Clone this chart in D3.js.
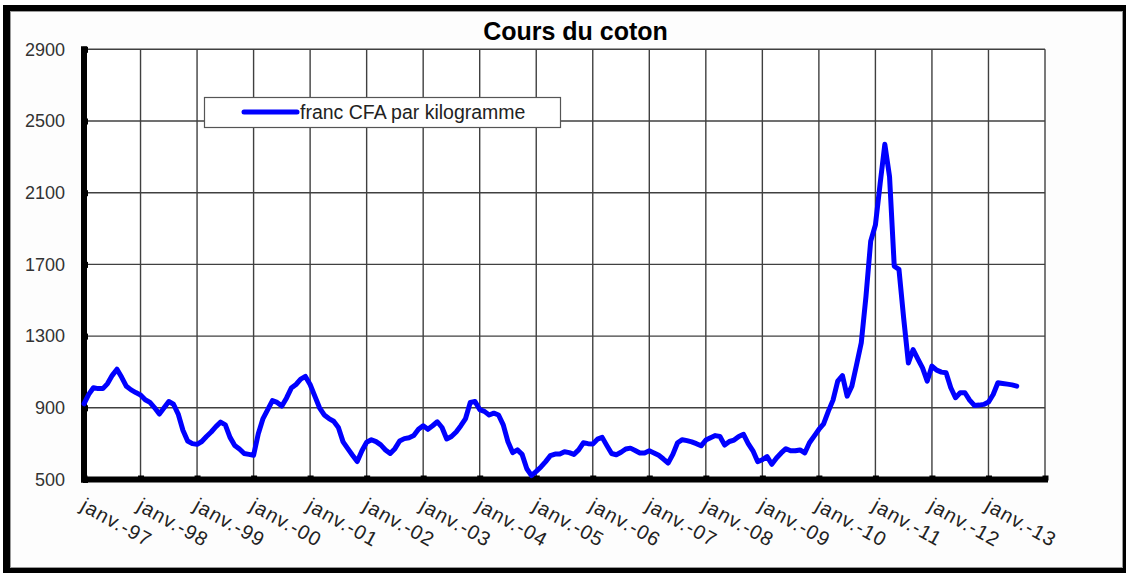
<!DOCTYPE html>
<html lang="fr">
<head>
<meta charset="utf-8" />
<title>Cours du coton</title>
<style type="text/css">
	body { margin: 0; background: #fff; }
	svg text { font-family: "Liberation Sans", Arial, sans-serif; }
</style>
</head>
<body>
<div id="graph"></div>
<script src="https://cdn.jsdelivr.net/npm/d3@7"></script>
<script type="text/javascript">
	// monthly price, franc CFA per kg, starting janv. 1997
	var seriesName = "franc CFA par kilogramme";
	var prices = [
		922, 975, 1012, 1007, 1007, 1035, 1081, 1115, 1070, 1020, 1000, 985,
		972, 945, 930, 900, 865, 900, 935, 920, 865, 775, 715, 700,
		696, 712, 740, 765, 795, 820, 805, 735, 690, 670, 645, 640,
		635, 755, 840, 890, 940, 930, 910, 955, 1010, 1030, 1060, 1075,
		1030, 965, 900, 860, 840, 825, 790, 710, 672, 635, 600, 660,
		708, 722, 711, 693, 665, 645, 672, 715, 728, 733, 745, 780,
		800, 780, 800, 822, 790, 726, 740, 765, 800, 840, 930, 935,
		890, 880, 860, 870, 860, 805, 710, 650, 665, 640, 560, 522,
		545, 570, 600, 633, 642, 642, 655, 650, 640, 665, 705, 700,
		698, 725, 735, 689, 645, 638, 652, 670, 675, 662, 648, 648,
		660, 648, 635, 614, 592, 640, 705, 722, 717, 710, 700, 688,
		720, 733, 745, 740, 692, 712, 720, 740, 752, 700, 660, 600,
		610, 628, 585, 620, 648, 672, 660, 660, 665, 648, 705, 742,
		779, 810, 880, 943, 1049, 1080, 965, 1021, 1140, 1263, 1523, 1830,
		1920, 2150, 2370, 2190, 1690, 1672, 1400, 1150, 1225, 1173, 1123, 1049,
		1133, 1110, 1099, 1095, 1012, 956, 984, 984, 943, 913, 915, 919,
		932, 974, 1040, 1036, 1032, 1028, 1021
	];
	var yTicks = [500, 900, 1300, 1700, 2100, 2500, 2900];
	var xTickLabels = ["janv.-97", "janv.-98", "janv.-99", "janv.-00", "janv.-01", "janv.-02",
		"janv.-03", "janv.-04", "janv.-05", "janv.-06", "janv.-07", "janv.-08", "janv.-09",
		"janv.-10", "janv.-11", "janv.-12", "janv.-13"];

	var W = 1126, H = 573;
	var plotL = 84, plotR = 1045, plotT = 49.3, plotB = 479.5;
	var nMonths = xTickLabels.length * 12; // axis runs to janv.-14

	var svg = d3.select("#graph").append("svg")
		.attr("width", W)
		.attr("height", H);

	// outer frame
	svg.append("rect").attr("x", 3).attr("y", 5).attr("width", W).attr("height", H)
		.attr("fill", "#000");
	svg.append("rect").attr("x", 10.5).attr("y", 11.5).attr("width", 1112).attr("height", 556)
		.attr("fill", "#fdfdfd").attr("stroke", "#9a9a9a").attr("stroke-width", 1);

	var x = d3.scaleLinear().domain([0, nMonths]).range([plotL, plotR]);
	var y = d3.scaleLinear().domain([500, 2900]).range([plotB, plotT]);

	// plot area
	svg.append("rect")
		.attr("x", plotL).attr("y", plotT)
		.attr("width", plotR - plotL).attr("height", plotB - plotT)
		.attr("fill", "#fff");

	// gridlines
	var grid = svg.append("g").attr("class", "grid");
	grid.selectAll(".hgrid")
		.data(yTicks)
		.enter().append("line")
		.attr("x1", plotL).attr("x2", plotR)
		.attr("y1", d => y(d)).attr("y2", d => y(d))
		.attr("stroke", "#404040").attr("stroke-width", 1.4);
	grid.selectAll(".vgrid")
		.data(d3.range(0, nMonths + 1, 12))
		.enter().append("line")
		.attr("x1", d => x(d)).attr("x2", d => x(d))
		.attr("y1", plotT).attr("y2", plotB)
		.attr("stroke", "#404040").attr("stroke-width", 1.4);

	// y axis
	var yAxis = svg.append("g")
		.attr("transform", "translate(" + plotL + ",0)")
		.call(d3.axisLeft(y).tickValues(yTicks).tickFormat(d3.format("d"))
			.tickSize(0).tickSizeOuter(0).tickPadding(19));
	yAxis.select(".domain").attr("stroke", "#000").attr("stroke-width", 6)
		.attr("d", "M0," + (plotT - 3) + "V" + (plotB + 3));
	yAxis.selectAll("text")
		.style("font-family", "'Liberation Sans', Arial, sans-serif")
		.style("font-size", "18px")
		.attr("fill", "#333");
	yAxis.selectAll(".tick").append("rect")
		.attr("x", -1).attr("y", -3).attr("width", 5).attr("height", 6).attr("fill", "#000");

	// x axis
	var xAxis = svg.append("g")
		.attr("transform", "translate(0," + plotB + ")")
		.call(d3.axisBottom(x)
			.tickValues(d3.range(0, nMonths + 1, 12))
			.tickFormat((d, i) => xTickLabels[i] || "")
			.tickSize(0).tickSizeOuter(0));
	xAxis.select(".domain").attr("stroke", "#000").attr("stroke-width", 6)
		.attr("d", "M" + (plotL - 3) + ",0H" + (plotR + 3));
	xAxis.selectAll(".tick").append("rect")
		.attr("x", -3).attr("y", -4).attr("width", 6).attr("height", 5).attr("fill", "#000");
	xAxis.selectAll("text")
		.style("font-family", "'Liberation Sans', Arial, sans-serif")
		.style("font-size", "20px")
		.style("letter-spacing", "1px")
		.attr("fill", "#222")
		.attr("text-anchor", "start")
		.attr("x", 0).attr("y", 0).attr("dy", "0.75em")
		.attr("transform", "translate(2,17) rotate(29)");

	// price line
	var line = d3.line()
		.x((d, i) => x(i))
		.y(d => y(d));
	svg.append("path")
		.datum(prices)
		.attr("d", line)
		.attr("fill", "none")
		.attr("stroke", "#0000ff")
		.attr("stroke-width", 5)
		.attr("stroke-linejoin", "round")
		.attr("stroke-linecap", "round");

	// title
	svg.append("text")
		.attr("x", 575.5).attr("y", 39.5)
		.attr("text-anchor", "middle")
		.style("font-size", "25px")
		.style("font-weight", "bold")
		.text("Cours du coton");

	// legend
	var legend = svg.append("g").attr("class", "legend");
	legend.append("rect")
		.attr("x", 204.5).attr("y", 97.5).attr("width", 356).attr("height", 30)
		.attr("fill", "#fff").attr("stroke", "#555").attr("stroke-width", 1.2);
	legend.append("line")
		.attr("x1", 244).attr("x2", 297).attr("y1", 112).attr("y2", 112)
		.attr("stroke", "#0000ff").attr("stroke-width", 5).attr("stroke-linecap", "round");
	legend.append("text")
		.attr("x", 300).attr("y", 112).attr("dy", "0.35em")
		.style("font-size", "19.5px")
		.attr("fill", "#222")
		.text(seriesName);
</script>
</body>
</html>
